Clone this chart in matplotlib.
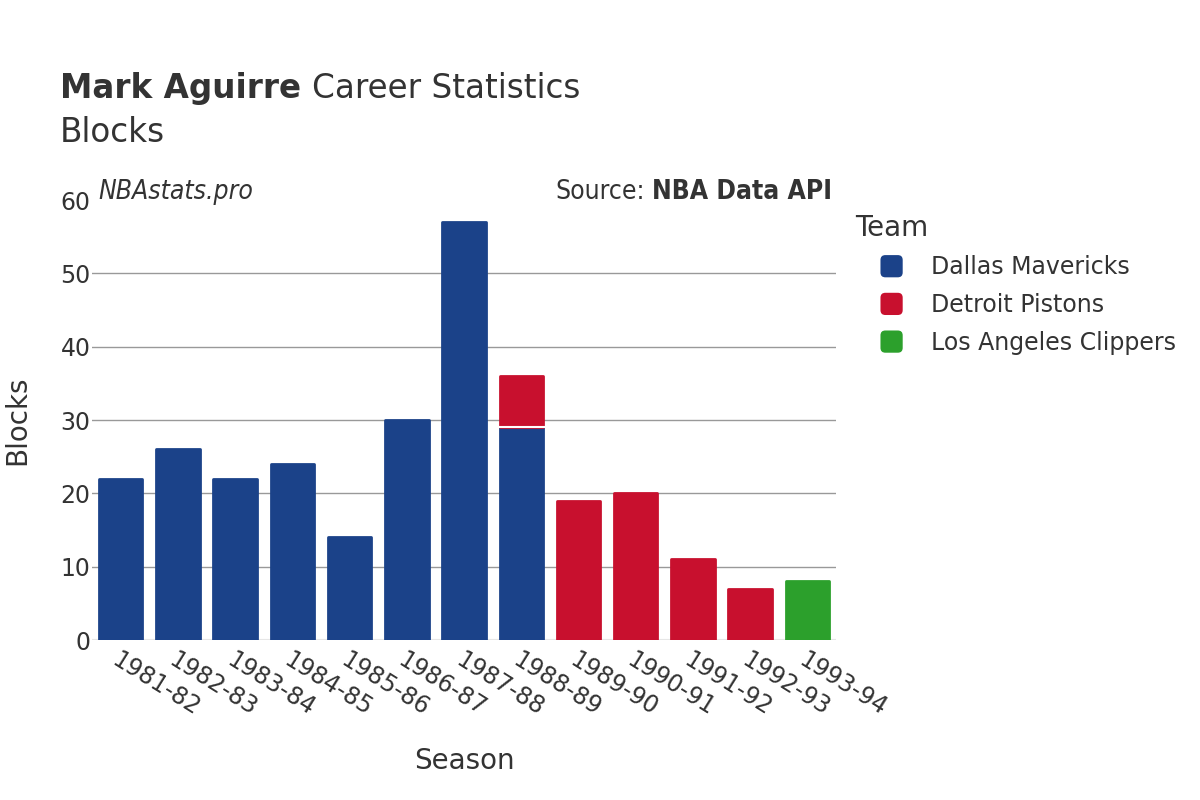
import matplotlib.pyplot as plt
from matplotlib.patches import Patch, FancyBboxPatch
from matplotlib.legend_handler import HandlerBase

plt.rcParams['font.family'] = ['DejaVu Sans']

seasons = ['1981-82', '1982-83', '1983-84', '1984-85', '1985-86', '1986-87', '1987-88',
           '1988-89', '1989-90', '1990-91', '1991-92', '1992-93', '1993-94']
teams = ['Dallas Mavericks', 'Detroit Pistons', 'Los Angeles Clippers']
colors = ['#1b4289', '#c8102e', '#2ca02c']
dallas = [22, 26, 22, 24, 14, 30, 57, 29, 0, 0, 0, 0, 0]
detroit = [0, 0, 0, 0, 0, 0, 0, 7, 19, 20, 11, 7, 0]
clippers = [0, 0, 0, 0, 0, 0, 0, 0, 0, 0, 0, 0, 8]
series = [dallas, detroit, clippers]


class RoundSquare(HandlerBase):
    # rounded square marker, drawn at the right end of the handle area
    def create_artists(self, legend, orig, xdescent, ydescent, width, height, fontsize, trans):
        s = 16
        cx = width - xdescent - s / 2
        cy = height / 2 - ydescent
        p = FancyBboxPatch((cx - s / 2, cy - s / 2), s, s,
                           boxstyle='round,pad=0,rounding_size=3.5',
                           fc=orig.get_facecolor(), ec='none', transform=trans)
        return [p]


fig = plt.figure(figsize=(12, 8), dpi=100)
ax = fig.add_axes([0.0767, 0.2, 0.62, 0.55])

x = list(range(len(seasons)))
bottom = [0] * len(seasons)
for vals, col in zip(series, colors):
    xs = [i for i, v in zip(x, vals) if v > 0]
    hs = [v for v in vals if v > 0]
    bs = [b for b, v in zip(bottom, vals) if v > 0]
    ax.bar(xs, hs, bottom=bs, width=0.76, color=col, edgecolor=col,
           linewidth=2, joinstyle='round', zorder=3)
    bottom = [b + v for b, v in zip(bottom, vals)]
# white divider in stacked bar
ax.plot([7 - 0.39, 7 + 0.39], [29, 29], color='white', lw=1.5, zorder=4)

ax.set_xlim(-0.5, len(seasons) - 0.5)
ax.set_ylim(0, 60)
ax.set_yticks([0, 10, 20, 30, 40, 50, 60])
for y in [10, 20, 30, 40, 50]:
    ax.axhline(y, color='#999999', lw=1, zorder=1)
ax.axhline(0, color='#e6e6e6', lw=1.5, zorder=1)
for s in ax.spines.values():
    s.set_visible(False)
ax.tick_params(length=0, labelsize=17, colors='#333333')
ax.tick_params(axis='x', pad=6)
ax.tick_params(axis='y', pad=1)
ax.set_xticks(x)
ax.set_xticklabels(seasons, rotation=-32, ha='left', va='top', rotation_mode='anchor')

fig.text(0.0142, 0.475, 'Blocks', rotation=90, fontsize=20, color='#333333', ha='center', va='center')
fig.text(0.387, 0.049, 'Season', fontsize=20, color='#333333', ha='center', va='center')

t1 = fig.text(0.05, 0.889, 'Mark Aguirre', fontsize=23.5, fontweight='bold', color='#333333', va='center')
fig.canvas.draw()
bb = t1.get_window_extent()
fig.text((bb.x1 + 11) / 1200, 0.889, 'Career Statistics', fontsize=23.5, color='#333333', va='center')
fig.text(0.05, 0.835, 'Blocks', fontsize=23.5, color='#333333', va='center')

fig.text(0.0817, 0.76, 'NBAstats.pro', fontsize=19, style='italic', fontstretch='condensed',
         color='#333333', va='center')
t2 = fig.text(0.693, 0.76, 'NBA Data API', fontsize=19, fontweight='bold', fontstretch='condensed',
              color='#333333', va='center', ha='right')
fig.canvas.draw()
bb2 = t2.get_window_extent()
fig.text((bb2.x0 - 7) / 1200, 0.76, 'Source:', fontsize=19, fontstretch='condensed',
         color='#333333', va='center', ha='right')

handles = [Patch(facecolor=c) for c in colors]
leg = fig.legend(handles, teams, loc='upper left', bbox_to_anchor=(0.7125, 0.733), frameon=False,
                 fontsize=17, title='Team', title_fontsize=20, labelcolor='#333333',
                 handler_map={Patch: RoundSquare()}, handlelength=2.02, handleheight=1.0,
                 handletextpad=1.2, labelspacing=0.58, alignment='left', borderpad=0.0,
                 borderaxespad=0.0)
leg.get_title().set_color('#333333')

fig.savefig('out.png', dpi=100)
